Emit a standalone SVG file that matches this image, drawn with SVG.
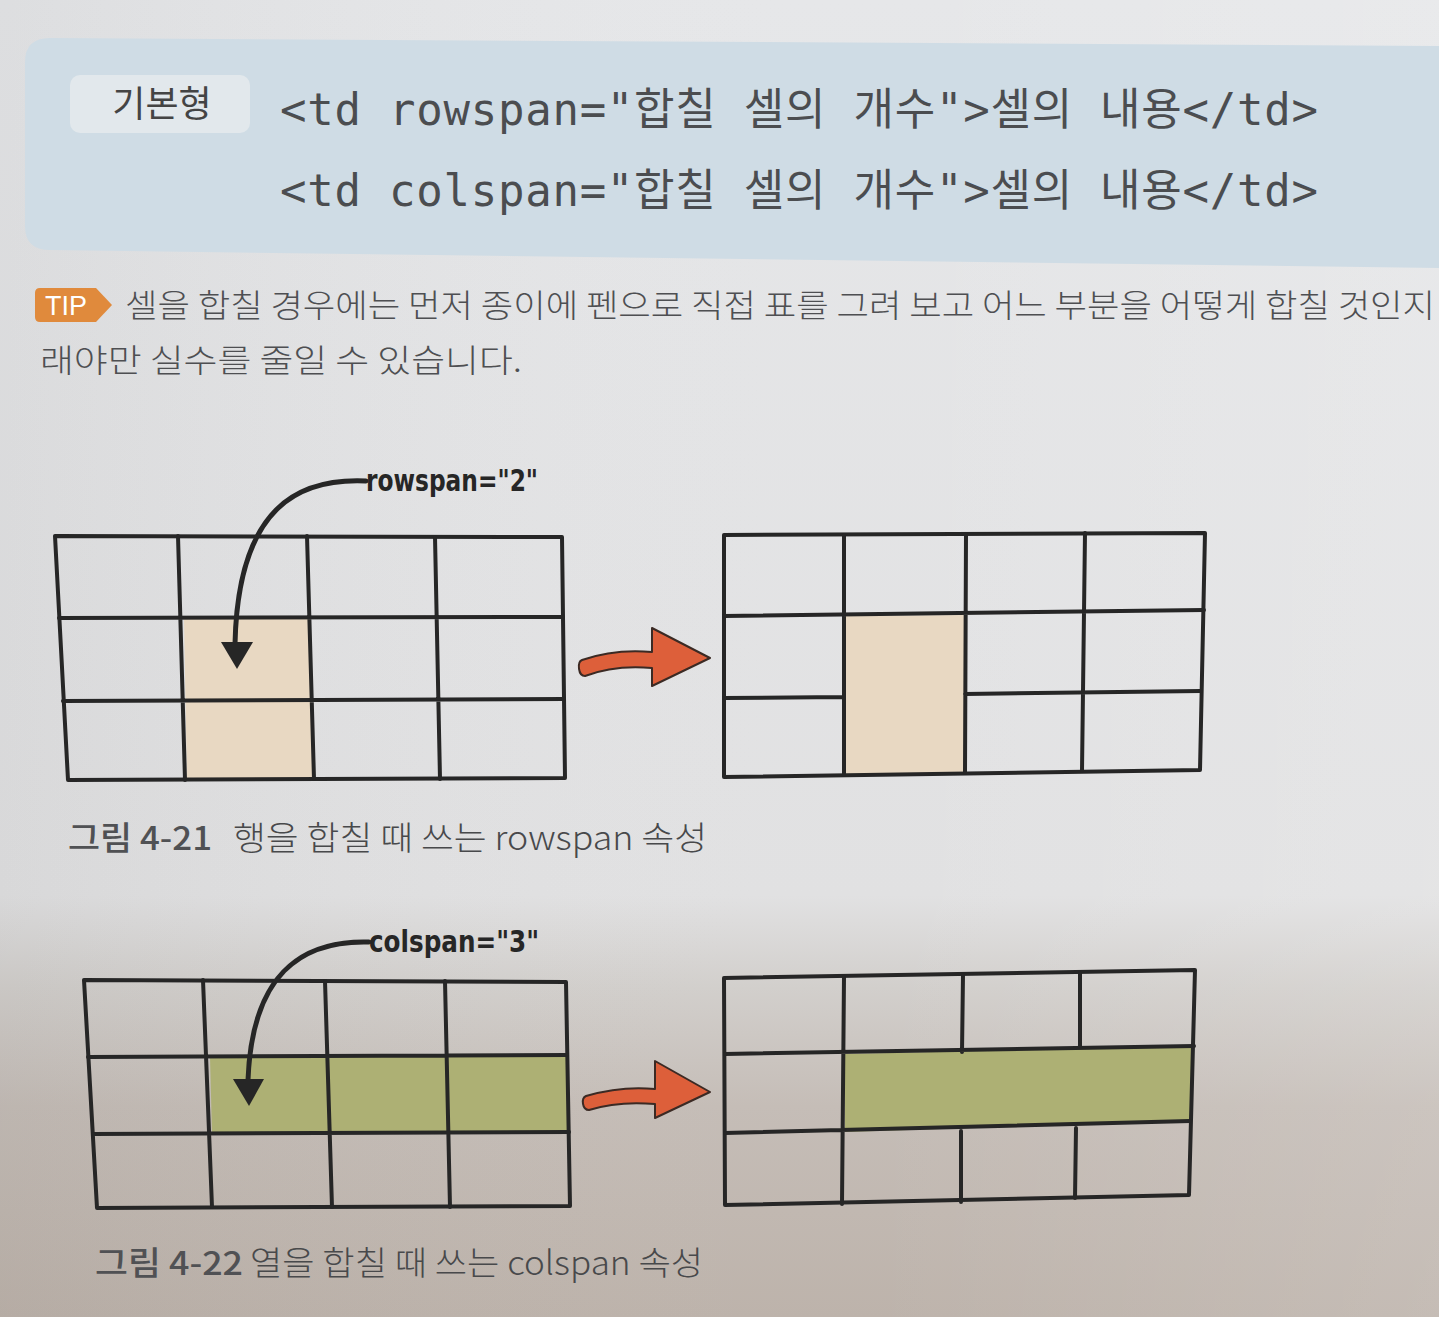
<svg xmlns="http://www.w3.org/2000/svg" width="1439" height="1317" viewBox="0 0 1439 1317">
<defs>
<linearGradient id="bg" x1="0" y1="0" x2="0" y2="1">
<stop offset="0" stop-color="#e6e7e9"/>
<stop offset="0.68" stop-color="#e1e1e2"/>
<stop offset="0.75" stop-color="#d2cfcc"/>
<stop offset="0.84" stop-color="#c5bdb7"/>
<stop offset="1" stop-color="#bdb3ab"/>
</linearGradient>
<linearGradient id="side" x1="0" y1="0" x2="1" y2="0">
<stop offset="0" stop-color="#000" stop-opacity="0.04"/>
<stop offset="0.6" stop-color="#fff" stop-opacity="0"/>
<stop offset="1" stop-color="#fff" stop-opacity="0.12"/>
</linearGradient>
<style>
.grid{fill:none;stroke:#262626;stroke-width:4;stroke-linecap:round;stroke-linejoin:round}
.code{font-family:"DejaVu Sans Mono","Noto Sans CJK KR",monospace;font-size:44px;fill:#4b4d50}
.body{font-family:"Noto Sans CJK KR","Noto Sans",sans-serif;font-size:32px;fill:#4e4f52;font-weight:300}
.cap{font-family:"Noto Sans CJK KR","Noto Sans",sans-serif;font-size:33px;fill:#48494b;font-weight:300}
.capb{font-weight:500;fill:#505154}
.hand{font-family:"DejaVu Sans Condensed","Noto Sans",sans-serif;font-size:30px;font-weight:bold;fill:#262626}
.conn{fill:none;stroke:#262626;stroke-width:5;stroke-linecap:round}
.head{fill:#262626}
.orange{fill:#dd5f3a;stroke:#3b2a24;stroke-width:2;stroke-linejoin:round}
.tan{fill:#e8d8c2}
.green{fill:#adb074}
</style>
</defs>
<rect x="0" y="0" width="1439" height="1317" fill="url(#bg)"/>
<rect x="0" y="0" width="1439" height="1317" fill="url(#side)"/>

<g id="syntax-box">
<path d="M50,38 L1439,46 L1439,268 L50,250 Q25,250 25,226 L25,62 Q25,38 50,38 Z" fill="#cfdce5"/>
<rect x="70" y="75" width="180" height="58" rx="10" fill="#e2e8ec"/>
<text x="162" y="117" text-anchor="middle" font-family="Noto Sans CJK KR, sans-serif" font-size="36" fill="#444">기본형</text>
<text class="code" x="280" y="125" textLength="1038" lengthAdjust="spacing">&lt;td rowspan="합칠 셀의 개수"&gt;셀의 내용&lt;/td&gt;</text>
<text class="code" x="280" y="206" textLength="1038" lengthAdjust="spacing">&lt;td colspan="합칠 셀의 개수"&gt;셀의 내용&lt;/td&gt;</text>
</g>

<g id="tip">
<path d="M40,288 L96,288 L112,305 L96,322 L40,322 Q35,322 35,317 L35,293 Q35,288 40,288 Z" fill="#e08a3c"/>
<text x="66" y="315" text-anchor="middle" font-family="Liberation Sans, sans-serif" font-size="27" fill="#fff">TIP</text>
<text class="body" x="125" y="317" textLength="1310" lengthAdjust="spacingAndGlyphs">셀을 합칠 경우에는 먼저 종이에 펜으로 직접 표를 그려 보고 어느 부분을 어떻게 합칠 것인지</text>
<text class="body" x="40" y="372" textLength="482" lengthAdjust="spacingAndGlyphs">래야만 실수를 줄일 수 있습니다.</text>
</g>

<g id="fig1-before">
<path class="tan" d="M184,618 L310,618 L313,778 L187,779 Z"/>
<path class="grid" d="M55,536 L562,537 L565,778 L68,780 Z"/>
<path class="grid" d="M178,536 L185,780 M307,536 L314,779 M435,537 L440,779 M59,618 L563,617 M63,701 L564,699"/>
<text class="hand" x="366" y="491" textLength="172" lengthAdjust="spacingAndGlyphs">rowspan="2"</text>
</g>

<g id="fig1-after">
<path class="tan" d="M845,616 L965,615 L964,773 L845,774 Z"/>
<path class="grid" d="M724,535 L1205,533 L1200,770 L724,777 Z"/>
<path class="grid" d="M844,535 L844,775 M966,534 L965,773 M1085,533 L1082,771 M724,616 L1204,610 M724,698 L844,697 M965,694 L1201,691"/>
</g>

<g id="fig2-before">
<path class="green" d="M210,1057 L567,1055 L569,1132 L212,1133 Z"/>
<path class="grid" d="M84,980 L566,982 L570,1206 L97,1208 Z"/>
<path class="grid" d="M203,980 L212,1207 M325,981 L332,1207 M445,981 L450,1207 M88,1057 L567,1055 M93,1134 L569,1132"/>
<text class="hand" x="369" y="952" textLength="170" lengthAdjust="spacingAndGlyphs">colspan="3"</text>
</g>

<g id="fig2-after">
<path class="green" d="M845,1054 L1192,1046 L1191,1121 L845,1132 Z"/>
<path class="grid" d="M724,978 L1195,970 L1189,1195 L725,1205 Z"/>
<path class="grid" d="M844,977 L842,1204 M963,975 L962,1052 M1080,973 L1080,1048 M725,1054 L1194,1046 M725,1133 L1190,1121 M961,1131 L961,1202 M1076,1128 L1075,1198"/>
</g>

<g id="connectors">
<path class="conn" d="M366,481 C300,478 238,505 235,644"/>
<polygon class="head" points="221,642 253,642 237,669"/>
<path class="conn" d="M369,942 C300,940 252,975 248,1080"/>
<polygon class="head" points="233,1079 264,1079 249,1106"/>
<path class="orange" d="M582,660 C605,652 630,650 652,652 L652,628 L710,658 L652,686 L652,668 C630,666 606,668 585,676 C578,676 577,662 582,660 Z"/>
<path class="orange" d="M586,1096 C610,1089 635,1087 655,1089 L655,1061 L710,1092 L655,1118 L655,1104 C632,1102 608,1104 589,1110 C582,1110 581,1098 586,1096 Z"/>
</g>

<g id="captions">
<text class="cap capb" x="68" y="850" textLength="144" lengthAdjust="spacingAndGlyphs">그림 4-21</text>
<text class="cap" x="233" y="850" textLength="474" lengthAdjust="spacingAndGlyphs">행을 합칠 때 쓰는 rowspan 속성</text>
<text class="cap capb" x="95" y="1275" textLength="148" lengthAdjust="spacingAndGlyphs">그림 4-22</text>
<text class="cap" x="250" y="1275" textLength="453" lengthAdjust="spacingAndGlyphs">열을 합칠 때 쓰는 colspan 속성</text>
</g>
</svg>
